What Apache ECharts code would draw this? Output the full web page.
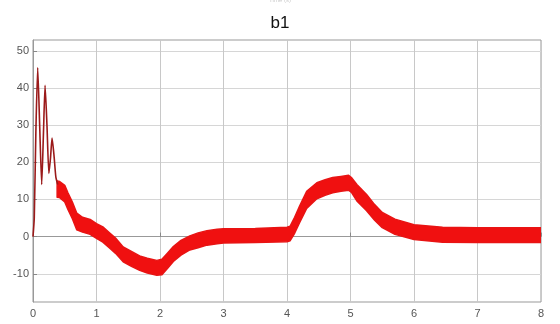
<!DOCTYPE html>
<html><head><meta charset="utf-8">
<script src="https://cdn.jsdelivr.net/npm/echarts@6/dist/echarts.min.js"></script>
<style>html,body{margin:0;padding:0;background:#fff}#c{width:560px;height:324px}</style>
</head><body><div id="c"></div>
<script>
// Thin oscillating start (dark red line)
const oscT = [0, 0.02, 0.045, 0.074, 0.105, 0.137, 0.165, 0.19, 0.22, 0.25, 0.275, 0.30, 0.33, 0.36, 0.39];
const oscV = [0, 5, 28, 45.5, 30, 14, 28, 40.7, 30, 17, 21, 26.5, 22, 16, 14];
// Thick noisy band: upper and lower envelopes
const bandT     = [0.38, 0.42, 0.5, 0.55, 0.62, 0.69, 0.78, 0.9, 1.0, 1.1, 1.2, 1.3, 1.42, 1.55, 1.68, 1.8, 1.95, 2.03, 2.12, 2.21, 2.33, 2.47, 2.6, 2.74, 2.9, 3.0, 3.5, 4.0, 4.05, 4.12, 4.2, 4.31, 4.47, 4.6, 4.72, 4.85, 4.97, 5.02, 5.1, 5.25, 5.38, 5.5, 5.7, 6.0, 6.45, 7.0, 7.5, 8.0];
const bandUpper = [15, 14.8, 13.8, 11.8, 9.3, 6.3, 5.2, 4.6, 3.5, 2.6, 1.1, -0.4, -2.8, -4, -5.2, -5.8, -6.4, -6.1, -4.4, -2.7, -1, 0.2, 1, 1.6, 2, 2.1, 2.2, 2.5, 2.8, 5.2, 8.3, 12.2, 14.5, 15.3, 15.9, 16.2, 16.5, 15.8, 14, 11.4, 8.6, 6.5, 4.7, 3.2, 2.5, 2.4, 2.4, 2.4];
const bandLower = [10.6, 10.5, 9.3, 7.3, 4.8, 1.8, 1.2, 0.6, -0.5, -1.5, -3, -4.5, -6.8, -8, -9.1, -9.8, -10.4, -10.3, -8.5, -6.7, -5, -3.6, -3, -2.3, -1.9, -1.7, -1.6, -1.4, -1.1, 0.9, 3.8, 7.6, 10.2, 11.1, 11.8, 12.2, 12.5, 11.8, 9.6, 7, 4.4, 2.4, 0.6, -0.8, -1.5, -1.6, -1.6, -1.6];
const xTicks = [0, 1, 2, 3, 4, 5, 6, 7, 8];
const yTicks = [-10, 0, 10, 20, 30, 40, 50];
const titleText = 'b1';

const chart = echarts.init(document.getElementById('c'), null, {renderer: 'canvas'});
const lbl = {color: '#555', fontSize: 11, fontFamily: 'Liberation Sans Narrow, Liberation Sans, Arial, sans-serif'};
chart.setOption({
  animation: false,
  title: {text: titleText, left: 'center', top: 10, textStyle: {fontSize: 17, fontWeight: 'normal', color: '#111', fontFamily: 'Liberation Sans, Arial, sans-serif'}},
  graphic: [{type: 'text', left: 'center', top: -3, style: {text: 'Time (s)', fontSize: 6, fill: '#ccc'}}],
  grid: {left: 33, right: 19, top: 40, bottom: 22, show: true, borderColor: '#999', borderWidth: 1},
  xAxis: {
    type: 'value', min: 0, max: 8, interval: 1,
    axisLine: {show: true, lineStyle: {color: '#999'}},
    axisTick: {show: true, inside: true, length: 4, lineStyle: {color: '#888'}},
    axisLabel: Object.assign({margin: 6, customValues: xTicks}, lbl),
    splitLine: {show: true, lineStyle: {color: '#c8c8c8'}}
  },
  yAxis: {
    type: 'value', min: -17.6, max: 52.9, splitNumber: 7, minInterval: 10, maxInterval: 10,
    axisLine: {show: true, lineStyle: {color: '#999'}},
    axisTick: {show: true, inside: true, length: 4, lineStyle: {color: '#888'}, customValues: yTicks},
    axisLabel: Object.assign({margin: 4, customValues: yTicks}, lbl),
    splitLine: {show: true, lineStyle: {color: '#d6d6d6'}}
  },
  series: [
    {
      type: 'custom', clip: true, z: 3,
      data: [[0, 0]],
      renderItem: function (params, api) {
        const pts = [];
        for (let i = 0; i < bandT.length; i++) pts.push(api.coord([bandT[i], bandUpper[i]]));
        for (let i = bandT.length - 1; i >= 0; i--) pts.push(api.coord([bandT[i], bandLower[i]]));
        return {type: 'polygon', shape: {points: pts}, style: {fill: '#f01010', stroke: '#e81414', lineWidth: 1.5, lineJoin: 'round'}};
      }
    },
    {
      type: 'line', z: 4, symbol: 'none', smooth: 0.2,
      data: oscT.map((t, i) => [t, oscV[i]]),
      lineStyle: {color: '#9b1a1a', width: 1.6}
    }
  ]
});
</script></body></html>
